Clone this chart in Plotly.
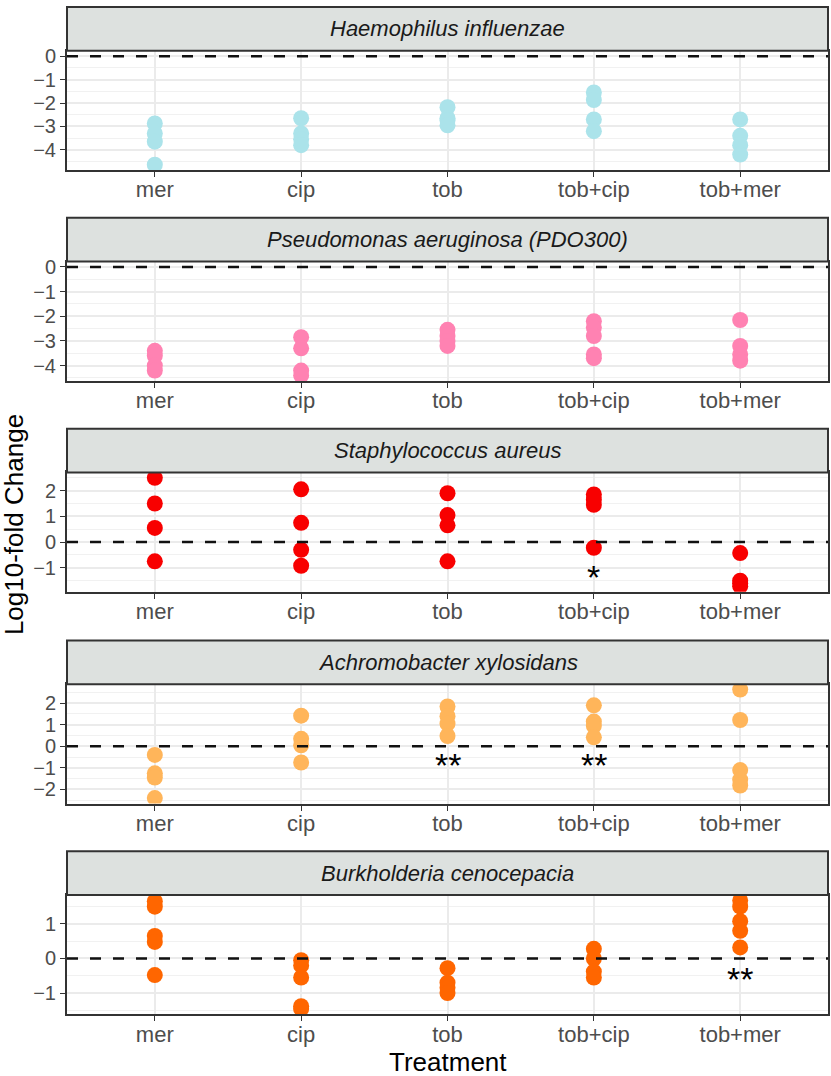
import plotly.graph_objects as go

W, H = 831, 1076

treatments = ["mer", "cip", "tob", "tob+cip", "tob+mer"]
species = [
    "Haemophilus influenzae",
    "Pseudomonas aeruginosa (PDO300)",
    "Staphylococcus aureus",
    "Achromobacter xylosidans",
    "Burkholderia cenocepacia",
]
colors = ["#ABE3EA", "#FF82B2", "#F80000", "#FFB55A", "#FF6600"]

# values per treatment (mer, cip, tob, tob+cip, tob+mer)
haemophilus = [
    [-2.87, -3.3, -3.65, -4.63],
    [-2.65, -3.3, -3.55, -3.8],
    [-2.18, -2.65, -2.75, -2.95],
    [-1.55, -1.87, -2.7, -3.2],
    [-2.7, -3.4, -3.8, -4.2],
]
pseudomonas = [
    [-3.4, -3.6, -4.0, -4.2],
    [-2.85, -3.3, -4.2, -4.4],
    [-2.55, -2.8, -3.0, -3.2],
    [-2.2, -2.45, -2.8, -3.55, -3.7],
    [-2.15, -3.2, -3.55, -3.8],
]
staphylococcus = [
    [2.5, 1.5, 0.55, -0.75],
    [2.05, 0.75, -0.3, -0.92],
    [1.9, 1.05, 0.65, -0.75],
    [1.85, 1.65, 1.45, -0.22],
    [-0.43, -1.5, -1.6, -1.72],
]
achromobacter = [
    [-0.4, -1.25, -1.45, -2.4],
    [1.42, 0.35, 0.05, -0.75],
    [1.85, 1.4, 1.05, 0.48],
    [1.9, 1.15, 0.95, 0.42],
    [2.63, 1.22, -1.1, -1.55, -1.82],
]
burkholderia = [
    [1.66, 1.5, 0.65, 0.48, -0.48],
    [-0.05, -0.2, -0.55, -1.38, -1.46],
    [-0.28, -0.7, -0.85, -1.0],
    [0.28, 0.0, -0.38, -0.55],
    [1.68, 1.5, 1.08, 0.8, 0.32],
]
panel_values = [haemophilus, pseudomonas, staphylococcus, achromobacter, burkholderia]

# significance labels: (panel index, treatment, y, label)
sig_panel = [2, 3, 3, 4]
sig_treat = ["tob+cip", "tob", "tob+cip", "tob+mer"]
sig_y = [-1.13, -0.6, -0.6, -0.43]
sig_label = ["*", "**", "**", "**"]

# ---- layout geometry (pixels) ----
x_left, x_right = 67, 828
strip_tops = [1, 213, 425, 638, 850]
strip_h = 44
plot_h = 120

fig = go.Figure()
shapes = []
annotations = []

def py(p):
    return 1 - p / H

FONT = "Liberation Sans, Arial, sans-serif"

for i, (name, vals, col) in enumerate(zip(species, panel_values, colors)):
    ax = "" if i == 0 else str(i + 1)
    xs, ys = [], []
    for t, v in zip(treatments, vals):
        xs += [t] * len(v)
        ys += v
    fig.add_trace(go.Scatter(x=xs, y=ys, mode="markers", xaxis="x" + ax, yaxis="y" + ax,
                             marker=dict(size=16, color=col, line=dict(width=0)),
                             showlegend=False, hoverinfo="x+y"))
    lo = min(min(ys), 0)
    hi = max(max(ys), 0)
    pad = 0.05 * (hi - lo)
    top = strip_tops[i] + strip_h
    bot = top + plot_h
    fig.layout["xaxis" + ax] = dict(
        domain=[x_left / W, x_right / W], anchor="y" + ax,
        type="category", categoryorder="array", categoryarray=treatments,
        range=[-0.6, 4.6], showgrid=True, gridcolor="#EBEBEB", gridwidth=1.5,
        showline=True, mirror=True, linecolor="#333333", linewidth=2,
        ticks="outside", ticklen=5, tickwidth=1.2, tickcolor="#333333",
        ticklabelstandoff=-6,
        tickfont=dict(family=FONT, size=22, color="#4D4D4D"),
        zeroline=False, fixedrange=True,
    )
    fig.layout["yaxis" + ax] = dict(
        domain=[py(bot), py(top)], anchor="x" + ax,
        range=[lo - pad, hi + pad], tick0=0, dtick=1,
        showgrid=True, gridcolor="#EBEBEB", gridwidth=1.5,
        minor=dict(tick0=0.5, dtick=1, showgrid=True, gridcolor="#F1F1F1", gridwidth=1),
        showline=True, mirror=True, linecolor="#333333", linewidth=2,
        ticks="outside", ticklen=5, tickwidth=1.2, tickcolor="#333333",
        tickfont=dict(family=FONT, size=20, color="#4D4D4D"),
        zeroline=False, fixedrange=True,
    )
    # dashed zero line
    shapes.append(dict(type="line", xref="x" + ax, yref="y" + ax,
                       x0=-0.6, x1=4.6, y0=0, y1=0, layer="above",
                       line=dict(color="#111111", width=2.5, dash="11px,12px")))
    # strip
    shapes.append(dict(type="rect", xref="paper", yref="paper",
                       x0=x_left / W, x1=x_right / W, y0=py(top), y1=py(strip_tops[i]),
                       fillcolor="#DDE1DF", line=dict(color="#333333", width=2)))
    annotations.append(dict(text="<i>" + name + "</i>", xref="paper", yref="paper",
                            x=(x_left + x_right) / 2 / W, y=py(strip_tops[i] + strip_h / 2),
                            showarrow=False, xanchor="center", yanchor="middle",
                            font=dict(family=FONT, size=22, color="#1A1A1A")))

for p, t, yv, lab in zip(sig_panel, sig_treat, sig_y, sig_label):
    ax = "" if p == 0 else str(p + 1)
    annotations.append(dict(text=lab, x=t, y=yv, xref="x" + ax, yref="y" + ax,
                            showarrow=False, xanchor="center", yanchor="middle", yshift=-6,
                            font=dict(family=FONT, size=34, color="black")))

annotations.append(dict(text="Log10-fold Change", xref="paper", yref="paper",
                        x=14 / W, y=py(522), textangle=-90, showarrow=False,
                        xanchor="center", yanchor="middle",
                        font=dict(family=FONT, size=26, color="black")))
annotations.append(dict(text="Treatment", xref="paper", yref="paper",
                        x=(x_left + x_right) / 2 / W, y=py(1062), showarrow=False,
                        xanchor="center", yanchor="middle",
                        font=dict(family=FONT, size=26, color="black")))

fig.update_layout(width=W, height=H, margin=dict(l=0, r=0, t=0, b=0),
                  paper_bgcolor="white", plot_bgcolor="white", showlegend=False,
                  shapes=shapes, annotations=annotations)

fig.write_html("out.html", config={"displayModeBar": False},
               post_script="document.body.style.margin='0';")
